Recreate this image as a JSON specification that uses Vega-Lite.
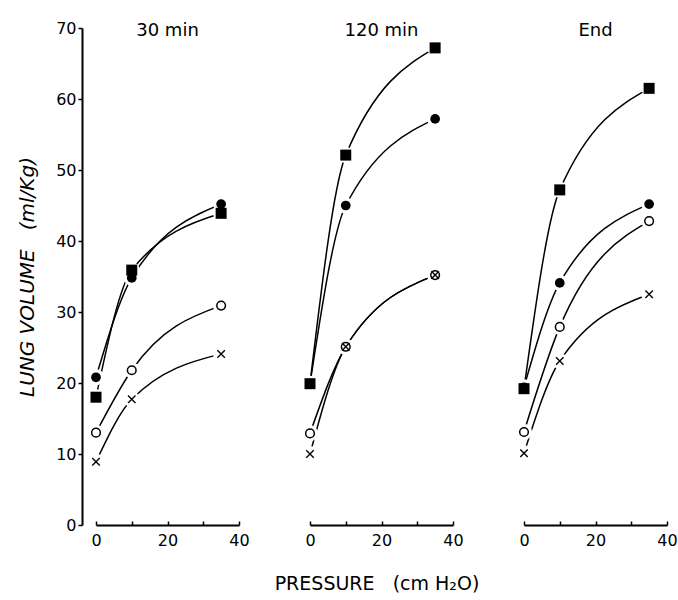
{
  "$schema": "https://vega.github.io/schema/vega-lite/v6.json",
  "background": "white",
  "padding": {"left": 17, "top": 20, "right": 0, "bottom": 0},
  "data": {"values": [
    {"panel": "30 min", "series": "sq", "p": 0, "v": 18},
    {"panel": "30 min", "series": "sq", "p": 10, "v": 35.9},
    {"panel": "30 min", "series": "sq", "p": 35, "v": 43.9},
    {"panel": "30 min", "series": "fc", "p": 0, "v": 20.8},
    {"panel": "30 min", "series": "fc", "p": 10, "v": 34.8},
    {"panel": "30 min", "series": "fc", "p": 35, "v": 45.2},
    {"panel": "30 min", "series": "oc", "p": 0, "v": 13},
    {"panel": "30 min", "series": "oc", "p": 10, "v": 21.8},
    {"panel": "30 min", "series": "oc", "p": 35, "v": 30.9},
    {"panel": "30 min", "series": "x", "p": 0, "v": 8.9},
    {"panel": "30 min", "series": "x", "p": 10, "v": 17.7},
    {"panel": "30 min", "series": "x", "p": 35, "v": 24.1},
    {"panel": "120 min", "series": "sq", "p": 0, "v": 19.9},
    {"panel": "120 min", "series": "sq", "p": 10, "v": 52.1},
    {"panel": "120 min", "series": "sq", "p": 35, "v": 67.2},
    {"panel": "120 min", "series": "fc", "p": 0, "v": 19.9},
    {"panel": "120 min", "series": "fc", "p": 10, "v": 45},
    {"panel": "120 min", "series": "fc", "p": 35, "v": 57.2},
    {"panel": "120 min", "series": "oc", "p": 0, "v": 12.9},
    {"panel": "120 min", "series": "oc", "p": 10, "v": 25.1},
    {"panel": "120 min", "series": "oc", "p": 35, "v": 35.2},
    {"panel": "120 min", "series": "x", "p": 0, "v": 10},
    {"panel": "120 min", "series": "x", "p": 10, "v": 25.1},
    {"panel": "120 min", "series": "x", "p": 35, "v": 35.2},
    {"panel": "End", "series": "sq", "p": 0, "v": 19.2},
    {"panel": "End", "series": "sq", "p": 10, "v": 47.2},
    {"panel": "End", "series": "sq", "p": 35, "v": 61.5},
    {"panel": "End", "series": "fc", "p": 0, "v": 19.4},
    {"panel": "End", "series": "fc", "p": 10, "v": 34.1},
    {"panel": "End", "series": "fc", "p": 35, "v": 45.2},
    {"panel": "End", "series": "oc", "p": 0, "v": 13.1},
    {"panel": "End", "series": "oc", "p": 10, "v": 27.9},
    {"panel": "End", "series": "oc", "p": 35, "v": 42.8},
    {"panel": "End", "series": "x", "p": 0, "v": 10.1},
    {"panel": "End", "series": "x", "p": 10, "v": 23.1},
    {"panel": "End", "series": "x", "p": 35, "v": 32.5}
  ]},
  "spacing": 71,
  "bounds": "flush",
  "facet": {
    "column": {
      "field": "panel",
      "type": "nominal",
      "sort": ["30 min", "120 min", "End"],
      "title": "PRESSURE\u00a0\u00a0\u00a0(cm H₂O)",
      "header": {
        "labelOrient": "top",
        "titleOrient": "bottom",
        "labelFont": "DejaVu Sans",
        "labelFontSize": 18,
        "labelFontWeight": "normal",
        "labelColor": "black",
        "labelPadding": -12,
        "titleFont": "DejaVu Sans",
        "titleFontSize": 19,
        "titleFontWeight": "normal",
        "titleColor": "black",
        "titlePadding": 17
      }
    }
  },
  "spec": {
    "width": 143,
    "height": 497,
    "encoding": {
      "x": {
        "field": "p",
        "type": "quantitative",
        "scale": {"domain": [0, 40], "nice": false, "zero": false},
        "axis": {
          "title": null,
          "values": [0, 10, 20, 30, 40],
          "labelExpr": "datum.value % 20 === 0 ? datum.label : ''",
          "grid": false,
          "tickSize": -4,
          "labelPadding": 11,
          "labelFont": "DejaVu Sans",
          "labelFontSize": 16,
          "labelColor": "black",
          "domainColor": "black",
          "domainWidth": 2,
          "tickColor": "black",
          "tickWidth": 1.5,
          "labelFlush": false
        }
      },
      "y": {
        "field": "v",
        "type": "quantitative",
        "scale": {"domain": [0, 70], "nice": false},
        "axis": {
          "title": "LUNG VOLUME\u00a0\u00a0\u00a0(ml/Kg)",
          "titleFont": "DejaVu Sans",
          "titleFontStyle": "italic",
          "titleFontSize": 20,
          "titleFontWeight": "normal",
          "titleColor": "black",
          "titlePadding": 18,
          "values": [0, 10, 20, 30, 40, 50, 60, 70],
          "offset": 14,
          "grid": false,
          "tickSize": 4,
          "labelPadding": 2,
          "labelFont": "DejaVu Sans",
          "labelFontSize": 16,
          "labelColor": "black",
          "domainColor": "black",
          "domainWidth": 2,
          "tickColor": "black",
          "tickWidth": 1.5
        }
      }
    },
    "layer": [
      {
        "mark": {"type": "line", "interpolate": "monotone", "color": "black", "strokeWidth": 1.5, "clip": false},
        "encoding": {"detail": {"field": "series", "type": "nominal"}}
      },
      {
        "mark": {"type": "point", "shape": "circle", "filled": true, "color": "white", "size": 260, "opacity": 1}
      },
      {
        "transform": [{"filter": "datum.series === 'fc'"}],
        "mark": {"type": "point", "shape": "circle", "filled": true, "color": "black", "size": 95, "opacity": 1}
      },
      {
        "transform": [{"filter": "datum.series === 'sq'"}],
        "mark": {"type": "point", "shape": "square", "filled": true, "color": "black", "size": 121, "opacity": 1}
      },
      {
        "transform": [{"filter": "datum.series === 'oc'"}],
        "mark": {"type": "point", "shape": "circle", "fill": "white", "stroke": "black", "strokeWidth": 1.5, "size": 75, "opacity": 1, "fillOpacity": 1}
      },
      {
        "transform": [{"filter": "datum.series === 'x'"}],
        "mark": {"type": "point", "shape": "M-1,-1L1,1M1,-1L-1,1", "stroke": "black", "strokeWidth": 1.4, "size": 56, "opacity": 1}
      }
    ]
  },
  "config": {
    "view": {"stroke": null},
    "font": "DejaVu Sans"
  }
}
